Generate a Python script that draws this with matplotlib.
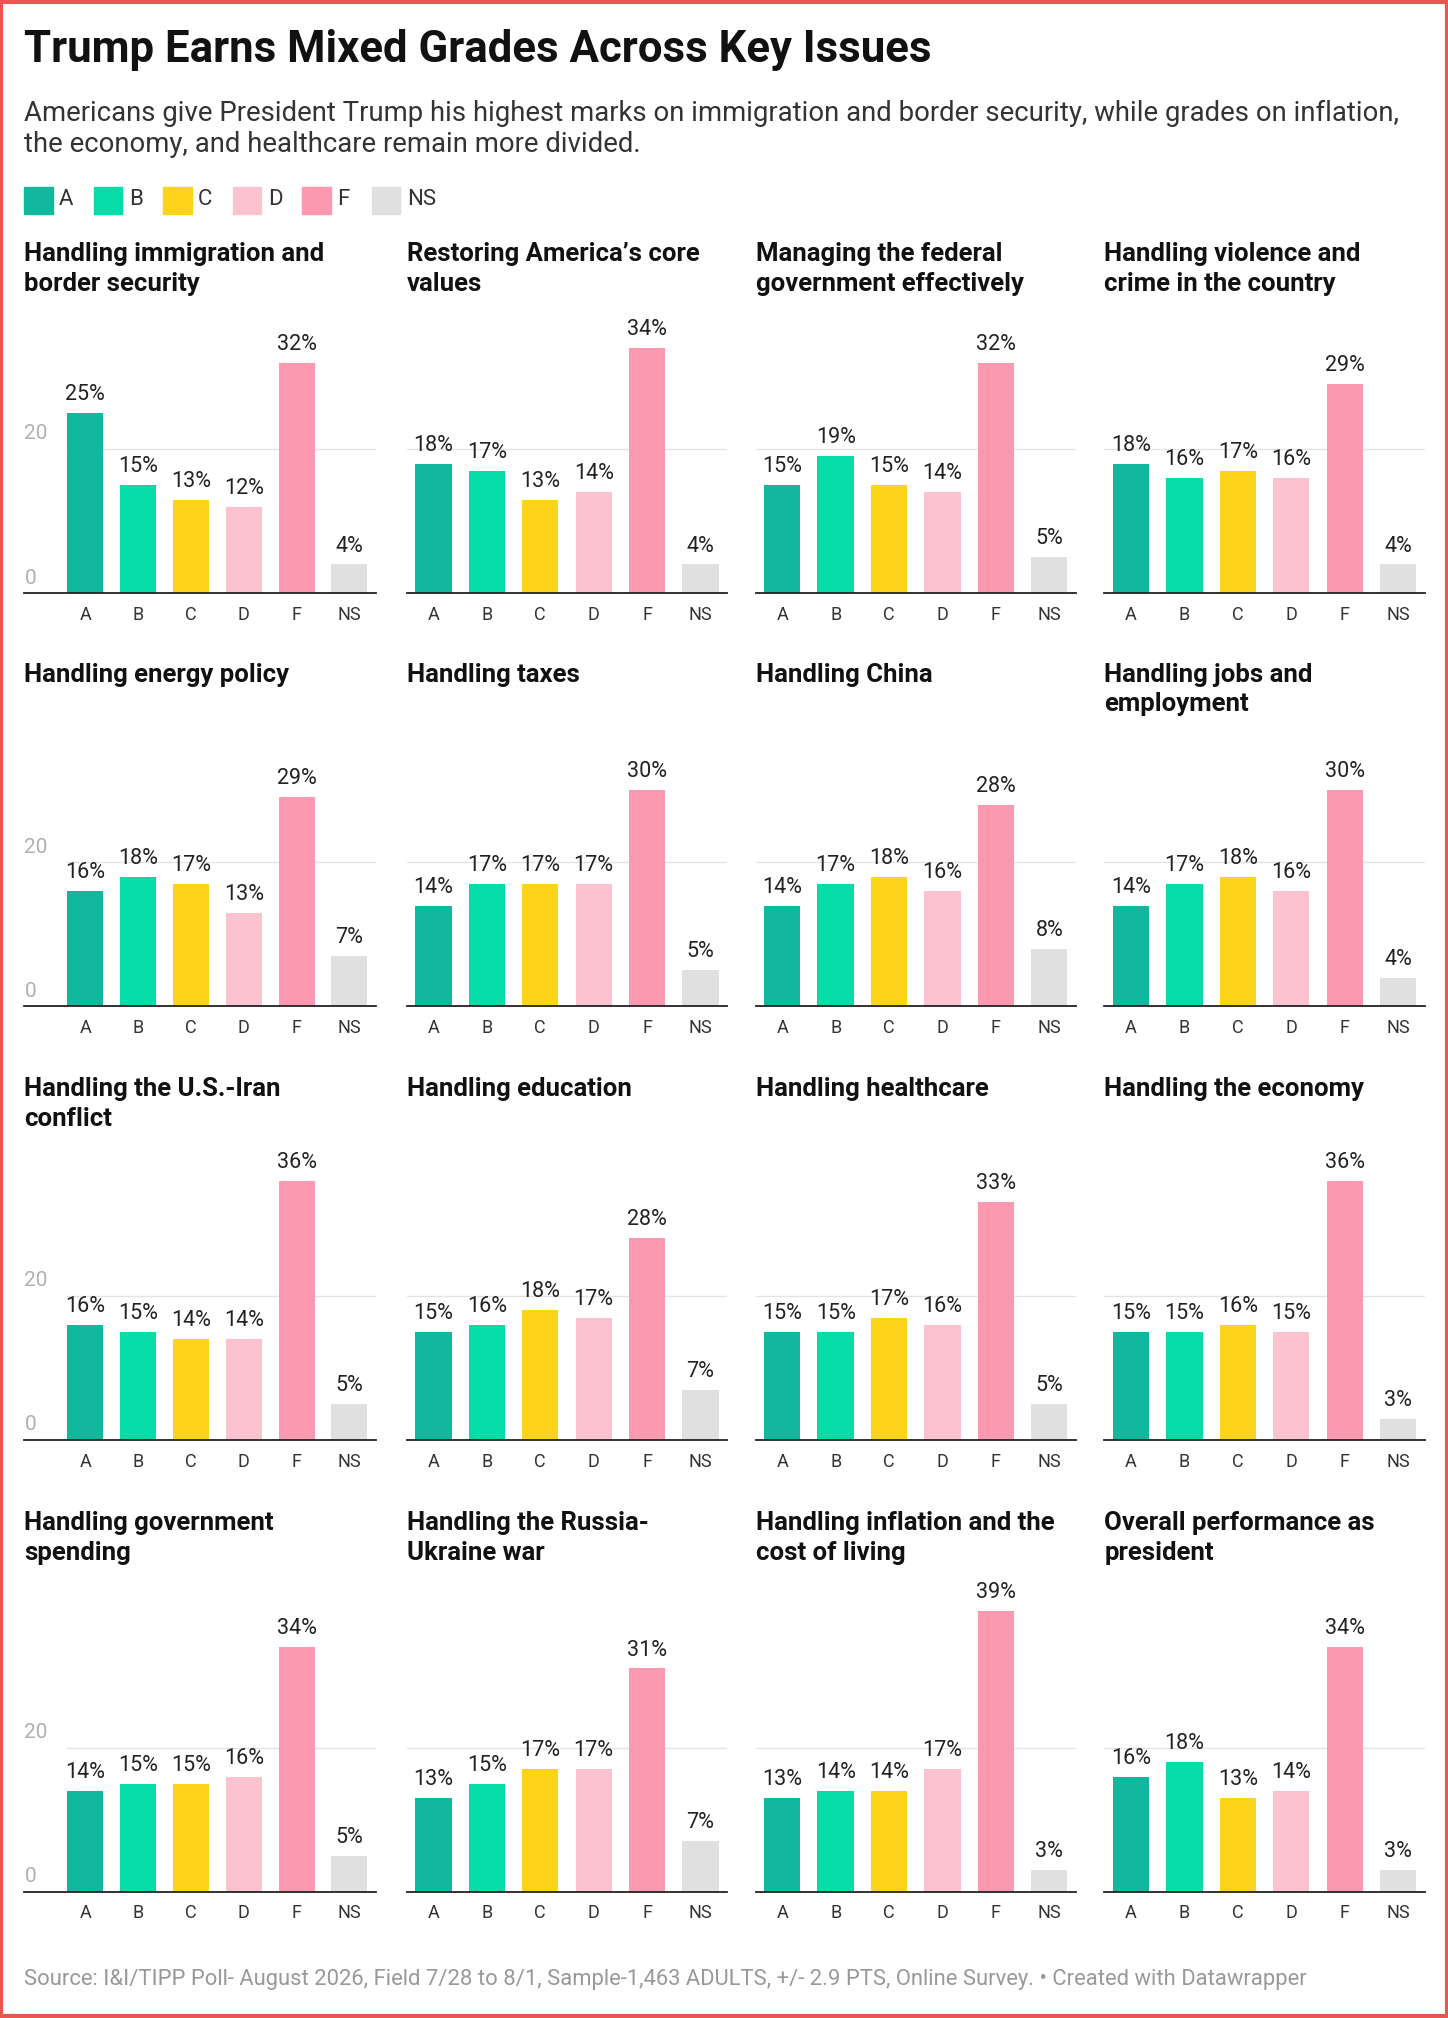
import matplotlib
matplotlib.use("Agg")
import matplotlib.pyplot as plt
from matplotlib.patches import Rectangle

plt.rcParams['font.family'] = ['Roboto', 'DejaVu Sans']

grades = ["A", "B", "C", "D", "F", "NS"]
colors = ["#12b89e", "#05dca7", "#fdd419", "#fdc2d0", "#fd98b1", "#e0e0e0"]

titles = [
    "Handling immigration and\nborder security", "Restoring America’s core\nvalues",
    "Managing the federal\ngovernment effectively", "Handling violence and\ncrime in the country",
    "Handling energy policy", "Handling taxes", "Handling China", "Handling jobs and\nemployment",
    "Handling the U.S.-Iran\nconflict", "Handling education", "Handling healthcare", "Handling the economy",
    "Handling government\nspending", "Handling the Russia-\nUkraine war",
    "Handling inflation and the\ncost of living", "Overall performance as\npresident",
]
immigration = [25, 15, 13, 12, 32, 4]
core_values = [18, 17, 13, 14, 34, 4]
federal = [15, 19, 15, 14, 32, 5]
crime = [18, 16, 17, 16, 29, 4]
energy = [16, 18, 17, 13, 29, 7]
taxes = [14, 17, 17, 17, 30, 5]
china = [14, 17, 18, 16, 28, 8]
jobs = [14, 17, 18, 16, 30, 4]
iran = [16, 15, 14, 14, 36, 5]
education = [15, 16, 18, 17, 28, 7]
healthcare = [15, 15, 17, 16, 33, 5]
economy = [15, 15, 16, 15, 36, 3]
spending = [14, 15, 15, 16, 34, 5]
russia = [13, 15, 17, 17, 31, 7]
inflation = [13, 14, 14, 17, 39, 3]
overall = [16, 18, 13, 14, 34, 3]
series = [immigration, core_values, federal, crime, energy, taxes, china, jobs,
          iran, education, healthcare, economy, spending, russia, inflation, overall]

W, H = 1125.0, 1568.0
fig = plt.figure(figsize=(14.48, 20.18), dpi=100)

def fx(px): return px / W
def fy(py): return 1 - py / H

fig.patches.append(Rectangle((0.001, 0.001), 0.998, 0.998, transform=fig.transFigure,
                             fill=False, edgecolor="#e8564f", linewidth=3))

fig.text(fx(19), fy(39), "Trump Earns Mixed Grades Across Key Issues", fontsize=31.5,
         fontweight="bold", va="center", ha="left", color="#111111")
fig.text(fx(19), fy(100), "Americans give President Trump his highest marks on immigration and border security, while grades on inflation,\nthe economy, and healthcare remain more divided.",
         fontsize=19.8, va="center", ha="left", color="#333333", linespacing=1.2)

lx = 19
for g, c in zip(grades, colors):
    fig.patches.append(Rectangle((fx(lx), fy(166)), fx(22), 21 / H, transform=fig.transFigure,
                                 color=c))
    fig.text(fx(lx + 27), fy(155), g, fontsize=16, va="center", ha="left", color="#333333")
    lx += 54

col_left = [19, 316, 587, 858]
col_width = [273, 249, 249, 249]
col_xmin = [-1.15, -0.5, -0.5, -0.5]
row_zero = [461, 782, 1119, 1470]
row_top = [245, 575, 880, 1225]
row_title = [196, 523, 845, 1182]
ppu = 5.6

for i, (t, vals) in enumerate(zip(titles, series)):
    r, c = divmod(i, 4)
    ymax = (row_zero[r] - row_top[r]) / ppu
    ax = fig.add_axes([fx(col_left[c]), fy(row_zero[r]), fx(col_width[c]),
                       (row_zero[r] - row_top[r]) / H])
    ax.set_xlim(col_xmin[c], 5.5)
    ax.set_ylim(0, ymax)
    x = list(range(len(grades)))
    ax.bar(x, vals, width=0.68, color=colors, zorder=2)
    for xi, v in zip(x, vals):
        ax.text(xi, v + 1.1, f"{v}%", ha="center", va="bottom", fontsize=15.5, color="#222222")
    if c == 0:
        ax.axhline(20, xmin=0.12, color="#e4e4e4", linewidth=1, zorder=0)
        ax.text(col_xmin[c], 20.8, "20", fontsize=15, color="#b0b0b0", ha="left", va="bottom")
        ax.text(col_xmin[c], 0.8, "0", fontsize=15, color="#b0b0b0", ha="left", va="bottom")
    else:
        ax.axhline(20, color="#e4e4e4", linewidth=1, zorder=0)
    for s in ["top", "right", "left"]:
        ax.spines[s].set_visible(False)
    ax.spines["bottom"].set_color("#222222")
    ax.spines["bottom"].set_linewidth(1.3)
    ax.set_yticks([])
    ax.set_xticks(x)
    ax.set_xticklabels(grades, fontsize=13, color="#333333")
    ax.tick_params(axis="x", length=0, pad=9)
    ax.patch.set_alpha(0)
    fig.text(fx(col_left[c]), fy(row_title[r] - 8), t, fontsize=18.5, fontweight="bold",
             va="top", ha="left", color="#111111", linespacing=1.3)

fig.text(fx(19), fy(1538), "Source: I&I/TIPP Poll- August 2026, Field 7/28 to 8/1, Sample-1,463 ADULTS, +/- 2.9 PTS, Online Survey. • Created with Datawrapper",
         fontsize=15.8, va="center", ha="left", color="#999999")

fig.savefig("out.png", dpi=100)
